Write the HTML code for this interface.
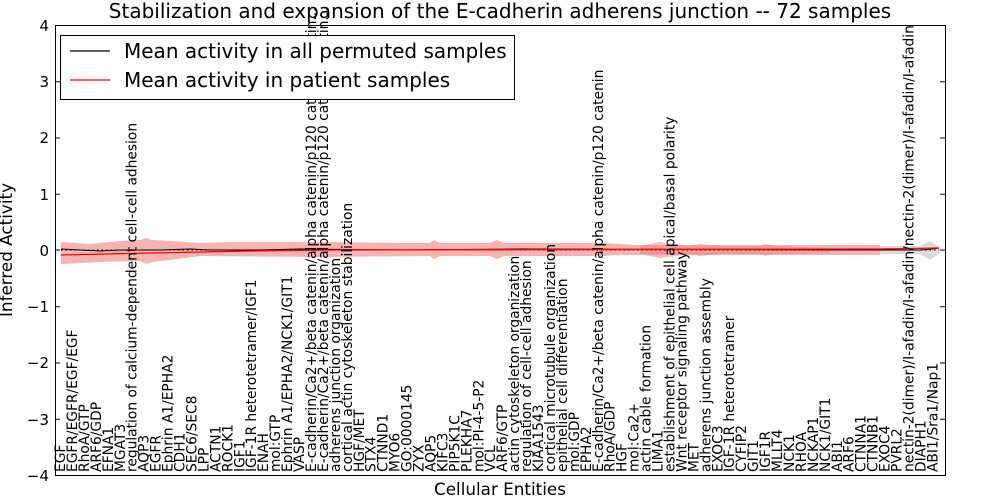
<!DOCTYPE html>
<html><head><meta charset="utf-8"><style>
html,body{margin:0;padding:0;background:#fff;width:1000px;height:500px;overflow:hidden}
svg{display:block;font-family:"DejaVu Sans","Liberation Sans",sans-serif}
.l{font-size:13.8px;fill:#000}
</style></head><body>
<svg width="1000" height="500" viewBox="0 0 1000 500" xmlns="http://www.w3.org/2000/svg">
<rect width="1000" height="500" fill="#fff"/>
<path d="M61,242 L90,244 L120,241 L140,240 L146,238 L152,240 L170,241 L200,243 L230,242 L280,242 L320,242 L400,243 L430,243 L434,240 L440,243 L490,243 L497,240 L505,243 L600,243 L620,244 L635,245 L880,245 L880,255 L640,255 L620,255 L600,256 L505,256 L497,259 L490,256 L440,256 L434,259 L430,256 L320,257 L200,256 L170,260 L152,262 L146,264 L140,261 L100,262 L61,264 Z" fill="#f08080" fill-opacity="0.6"/>
<path d="M640,246 L660,242 L690,246 L700,244 L720,246 L760,246 L765,244 L775,246 L830,248 L830,253 L775,254 L765,256 L760,254 L720,254 L700,256 L690,254 L660,258 L640,254 Z" fill="#f08080" fill-opacity="0.5"/>
<path d="M880,246 L920,246 L930,241 L940,248 L940,253 L930,260 L920,254 L880,254 Z" fill="#ccc" fill-opacity="0.7"/>
<polyline points="61,249 80,250 100,251 120,250 160,250 190,249 210,250 260,250 300,249 400,250 520,249 880,250 920,250 932,249 939,248" fill="none" stroke="#000" stroke-width="1"/>
<line x1="61" y1="250" x2="939" y2="250" stroke="#000" stroke-width="1" stroke-dasharray="1.5,3"/>
<polyline points="61,255 150,253 250,251 330,250 880,249 939,248" fill="none" stroke="#f00" stroke-width="1.3"/>
<g class="l">
<text x="65" y="472" transform="rotate(-90 65 472)">EGF</text>
<text x="77" y="472" transform="rotate(-90 77 472)">EGFR/EGFR/EGF/EGF</text>
<text x="88.9" y="472" transform="rotate(-90 88.9 472)">RhoA/GTP</text>
<text x="100.9" y="472" transform="rotate(-90 100.9 472)">ARF6/GDP</text>
<text x="112.8" y="472" transform="rotate(-90 112.8 472)">EFNA1</text>
<text x="124.8" y="472" transform="rotate(-90 124.8 472)">MGAT3</text>
<text x="136.7" y="472" transform="rotate(-90 136.7 472)">regulation of calcium-dependent cell-cell adhesion</text>
<text x="148.7" y="472" transform="rotate(-90 148.7 472)">AQP3</text>
<text x="160.6" y="472" transform="rotate(-90 160.6 472)">EGFR</text>
<text x="172.6" y="472" transform="rotate(-90 172.6 472)">Ephrin A1/EPHA2</text>
<text x="184.5" y="472" transform="rotate(-90 184.5 472)">CDH1</text>
<text x="196.5" y="472" transform="rotate(-90 196.5 472)">SEC6/SEC8</text>
<text x="208.4" y="472" transform="rotate(-90 208.4 472)">LPP</text>
<text x="220.4" y="472" transform="rotate(-90 220.4 472)">ACTN1</text>
<text x="232.3" y="472" transform="rotate(-90 232.3 472)">ROCK1</text>
<text x="244.3" y="472" transform="rotate(-90 244.3 472)">IGF1</text>
<text x="256.2" y="472" transform="rotate(-90 256.2 472)">IGF-1R heterotetramer/IGF1</text>
<text x="268.2" y="472" transform="rotate(-90 268.2 472)">ENAH</text>
<text x="280.1" y="472" transform="rotate(-90 280.1 472)">mol:GTP</text>
<text x="292.1" y="472" transform="rotate(-90 292.1 472)">Ephrin A1/EPHA2/NCK1/GIT1</text>
<text x="304" y="472" transform="rotate(-90 304 472)">VASP</text>
<text x="316" y="472" transform="rotate(-90 316 472)">E-cadherin/Ca2+/beta catenin/alpha catenin/p120 catenin/Nectin...</text>
<text x="327.9" y="472" transform="rotate(-90 327.9 472)">E-cadherin/Ca2+/beta catenin/alpha catenin/p120 catenin/Nectin...</text>
<text x="339.9" y="472" transform="rotate(-90 339.9 472)">adherens junction organization</text>
<text x="351.8" y="472" transform="rotate(-90 351.8 472)">cortical actin cytoskeleton stabilization</text>
<text x="363.8" y="472" transform="rotate(-90 363.8 472)">HGF/MET</text>
<text x="375.7" y="472" transform="rotate(-90 375.7 472)">STX4</text>
<text x="387.7" y="472" transform="rotate(-90 387.7 472)">CTNND1</text>
<text x="399.6" y="472" transform="rotate(-90 399.6 472)">MYO6</text>
<text x="411.6" y="472" transform="rotate(-90 411.6 472)">GO:0000145</text>
<text x="423.5" y="472" transform="rotate(-90 423.5 472)">ZYX</text>
<text x="435.5" y="472" transform="rotate(-90 435.5 472)">AQP5</text>
<text x="447.4" y="472" transform="rotate(-90 447.4 472)">KIFC3</text>
<text x="459.4" y="472" transform="rotate(-90 459.4 472)">PIP5K1C</text>
<text x="471.3" y="472" transform="rotate(-90 471.3 472)">PLEKHA7</text>
<text x="483.3" y="472" transform="rotate(-90 483.3 472)">mol:PI-4-5-P2</text>
<text x="495.2" y="472" transform="rotate(-90 495.2 472)">VCL</text>
<text x="507.2" y="472" transform="rotate(-90 507.2 472)">ARF6/GTP</text>
<text x="519.1" y="472" transform="rotate(-90 519.1 472)">actin cytoskeleton organization</text>
<text x="531.1" y="472" transform="rotate(-90 531.1 472)">regulation of cell-cell adhesion</text>
<text x="543" y="472" transform="rotate(-90 543 472)">KIAA1543</text>
<text x="555" y="472" transform="rotate(-90 555 472)">cortical microtubule organization</text>
<text x="566.9" y="472" transform="rotate(-90 566.9 472)">epithelial cell differentiation</text>
<text x="578.9" y="472" transform="rotate(-90 578.9 472)">mol:GDP</text>
<text x="590.8" y="472" transform="rotate(-90 590.8 472)">EPHA2</text>
<text x="602.8" y="472" transform="rotate(-90 602.8 472)">E-cadherin/Ca2+/beta catenin/alpha catenin/p120 catenin</text>
<text x="614.7" y="472" transform="rotate(-90 614.7 472)">RhoA/GDP</text>
<text x="626.7" y="472" transform="rotate(-90 626.7 472)">HGF</text>
<text x="638.6" y="472" transform="rotate(-90 638.6 472)">mol:Ca2+</text>
<text x="650.6" y="472" transform="rotate(-90 650.6 472)">actin cable formation</text>
<text x="662.5" y="472" transform="rotate(-90 662.5 472)">LIMA1</text>
<text x="674.5" y="472" transform="rotate(-90 674.5 472)">establishment of epithelial cell apical/basal polarity</text>
<text x="686.4" y="472" transform="rotate(-90 686.4 472)">Wnt receptor signaling pathway</text>
<text x="698.4" y="472" transform="rotate(-90 698.4 472)">MET</text>
<text x="710.3" y="472" transform="rotate(-90 710.3 472)">adherens junction assembly</text>
<text x="722.3" y="472" transform="rotate(-90 722.3 472)">EXOC3</text>
<text x="734.2" y="472" transform="rotate(-90 734.2 472)">IGF-1R heterotetramer</text>
<text x="746.2" y="472" transform="rotate(-90 746.2 472)">CYFIP2</text>
<text x="758.1" y="472" transform="rotate(-90 758.1 472)">GIT1</text>
<text x="770.1" y="472" transform="rotate(-90 770.1 472)">IGF1R</text>
<text x="782" y="472" transform="rotate(-90 782 472)">MLLT4</text>
<text x="794" y="472" transform="rotate(-90 794 472)">NCK1</text>
<text x="805.9" y="472" transform="rotate(-90 805.9 472)">RHOA</text>
<text x="817.9" y="472" transform="rotate(-90 817.9 472)">NCKAP1</text>
<text x="829.8" y="472" transform="rotate(-90 829.8 472)">NCK1/GIT1</text>
<text x="841.8" y="472" transform="rotate(-90 841.8 472)">ABI1</text>
<text x="853.7" y="472" transform="rotate(-90 853.7 472)">ARF6</text>
<text x="865.7" y="472" transform="rotate(-90 865.7 472)">CTNNA1</text>
<text x="877.6" y="472" transform="rotate(-90 877.6 472)">CTNNB1</text>
<text x="889.6" y="472" transform="rotate(-90 889.6 472)">EXOC4</text>
<text x="901.5" y="472" transform="rotate(-90 901.5 472)">PVRL2</text>
<text x="913.5" y="472" transform="rotate(-90 913.5 472)">nectin-2(dimer)/I-afadin/I-afadin/nectin-2(dimer)/I-afadin/I-afadin</text>
<text x="925.4" y="472" transform="rotate(-90 925.4 472)">DIAPH1</text>
<text x="937.4" y="472" transform="rotate(-90 937.4 472)">ABI1/Sra1/Nap1</text>
</g>
<rect x="55.5" y="25.5" width="890" height="450" fill="none" stroke="#000" stroke-width="1"/>
<g stroke="#000" stroke-width="1">
<line x1="55" y1="81.75" x2="60" y2="81.75"/><line x1="55" y1="138" x2="60" y2="138"/><line x1="55" y1="194.25" x2="60" y2="194.25"/><line x1="55" y1="250" x2="60" y2="250"/><line x1="55" y1="306.75" x2="60" y2="306.75"/><line x1="55" y1="363" x2="60" y2="363"/><line x1="55" y1="419.25" x2="60" y2="419.25"/>
<line x1="940" y1="81.75" x2="945" y2="81.75"/><line x1="940" y1="138" x2="945" y2="138"/><line x1="940" y1="194.25" x2="945" y2="194.25"/><line x1="940" y1="250" x2="945" y2="250"/><line x1="940" y1="306.75" x2="945" y2="306.75"/><line x1="940" y1="363" x2="945" y2="363"/><line x1="940" y1="419.25" x2="945" y2="419.25"/>
</g>
<g font-size="15" text-anchor="end">
<text x="49" y="31">4</text><text x="49" y="87">3</text><text x="49" y="143">2</text><text x="49" y="200">1</text><text x="49" y="256">0</text><text x="49" y="312">−1</text><text x="49" y="368">−2</text><text x="49" y="425">−3</text><text x="49" y="481">−4</text>
</g>
<text x="500" y="18" font-size="20" text-anchor="middle">Stabilization and expansion of the E-cadherin adherens junction -- 72 samples</text>
<text x="500" y="495" font-size="16.8" text-anchor="middle">Cellular Entities</text>
<text x="12" y="250" font-size="16.8" text-anchor="middle" transform="rotate(-90 12 250)">Inferred Activity</text>
<rect x="60.5" y="35.5" width="454" height="64" fill="#fff" stroke="#000" stroke-width="1"/>
<line x1="70" y1="51" x2="110" y2="51" stroke="#000" stroke-width="1.2"/>
<line x1="70" y1="80" x2="110" y2="80" stroke="#f00" stroke-width="1.3"/>
<text x="124" y="58" font-size="20">Mean activity in all permuted samples</text>
<text x="124" y="87" font-size="20">Mean activity in patient samples</text>
</svg>
</body></html>
